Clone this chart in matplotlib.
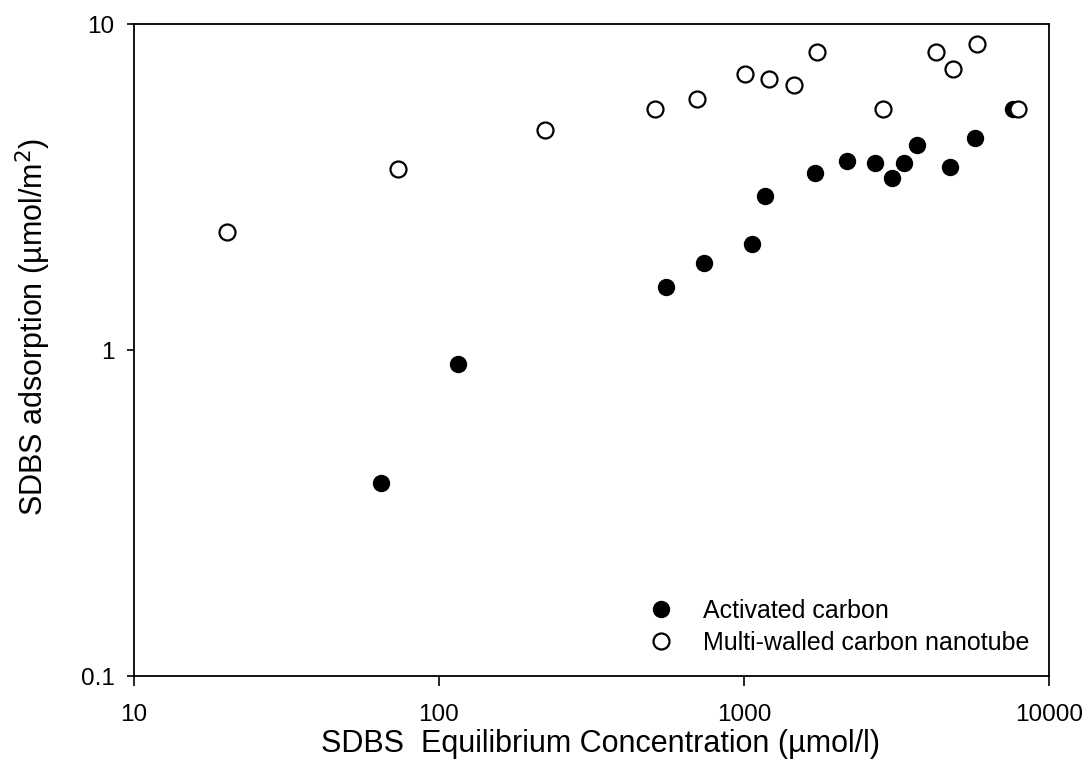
import matplotlib.pyplot as plt
import numpy as np

plt.rcParams['font.family'] = ['Liberation Sans', 'DejaVu Sans']

# activated carbon
ac_x = [64.5, 115.7, 555, 741, 1062, 1172, 1705, 2173, 2690, 3071, 3350, 3702, 4746, 5717, 7638]
ac_y = [0.392, 0.906, 1.56, 1.85, 2.12, 2.97, 3.50, 3.79, 3.76, 3.38, 3.74, 4.26, 3.65, 4.48, 5.50]

# multi-walled carbon nanotube
mw_x = [20.2, 73.4, 222.6, 511, 704, 1012, 1205, 1462, 1740, 2849, 4263, 4857, 5823, 7947]
mw_y = [2.30, 3.59, 4.73, 5.49, 5.90, 7.05, 6.78, 6.48, 8.20, 5.47, 8.22, 7.26, 8.71, 5.47]

fig = plt.figure(figsize=(10.88, 7.63), dpi=100)
ax = fig.add_axes([0.1232, 0.114, 0.8408, 0.8545])

ax.plot(ac_x, ac_y, 'o', color='black', ms=11.5, label='Activated carbon')
ax.plot(mw_x, mw_y, 'o', mfc='white', mec='black', mew=1.6, ms=11.5,
        label='Multi-walled carbon nanotube')

ax.set_xscale('log')
ax.set_yscale('log')
ax.set_xlim(10, 10000)
ax.set_ylim(0.1, 10)
ax.set_xticks([10, 100, 1000, 10000])
ax.set_xticklabels(['10', '100', '1000', '10000'])
ax.set_yticks([0.1, 1, 10])
ax.set_yticklabels(['0.1', '1', '10'])
ax.minorticks_off()
ax.tick_params(axis='x', labelsize=17.5, length=7, width=1.2, direction='out', pad=13)
ax.tick_params(axis='y', labelsize=17.5, length=5, width=1.2, direction='out', pad=9)
for s in ax.spines.values():
    s.set_linewidth(1.3)

ax.set_xlabel('SDBS  Equilibrium Concentration (\u00b5mol/l)', fontsize=22,
              labelpad=2, x=0.51)
ax.set_ylabel('SDBS adsorption (\u00b5mol/m$^2$)', fontsize=22, labelpad=20, y=0.535)

ax.legend(loc='lower right', frameon=False, fontsize=18, markerscale=1.0,
          handlelength=1.0, handletextpad=1.2, borderpad=0, borderaxespad=0,
          labelspacing=0.32, bbox_to_anchor=(0.979, 0.032))

fig.savefig('out.png', dpi=100)
